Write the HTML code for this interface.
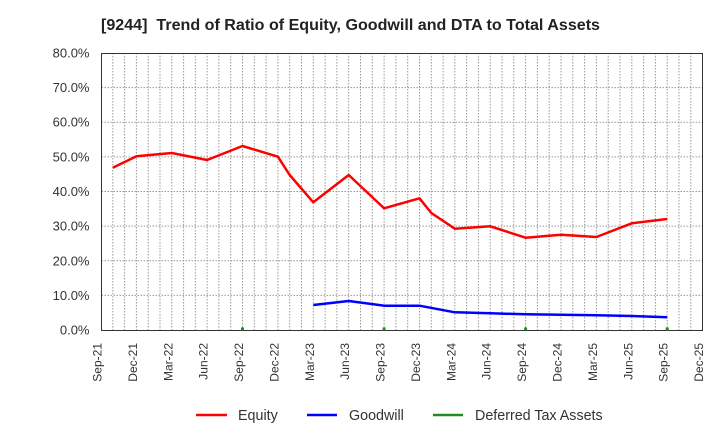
<!DOCTYPE html>
<html><head><meta charset="utf-8"><style>
html,body{margin:0;padding:0;background:#fff;}
svg{display:block;}
text{font-family:"Liberation Sans",Arial,sans-serif;}
</style></head><body>
<svg width="720" height="440" viewBox="0 0 720 440" xmlns="http://www.w3.org/2000/svg">
<rect width="720" height="440" fill="#fff"/>
<text x="101" y="30" font-size="16" font-weight="bold" fill="#222" textLength="499" lengthAdjust="spacingAndGlyphs">[9244]&#160; Trend of Ratio of Equity, Goodwill and DTA to Total Assets</text>
<g stroke="#999" stroke-width="1" stroke-dasharray="1.5,1.5" fill="none">
<path d="M101.5 87.6H702.5M101.5 122.2H702.5M101.5 156.9H702.5M101.5 191.5H702.5M101.5 226.1H702.5M101.5 260.8H702.5M101.5 295.4H702.5"/>
<path d="M112.8 53V330M124.6 53V330M136.4 53V330M148.2 53V330M160 53V330M171.8 53V330M183.6 53V330M195.3 53V330M207.1 53V330M218.9 53V330M230.7 53V330M242.5 53V330M254.3 53V330M266.1 53V330M277.9 53V330M289.7 53V330M301.5 53V330M313.3 53V330M325.1 53V330M336.9 53V330M348.7 53V330M360.5 53V330M372.3 53V330M384.1 53V330M395.9 53V330M407.7 53V330M419.5 53V330M431.3 53V330M443.1 53V330M454.8 53V330M466.6 53V330M478.4 53V330M490.2 53V330M502 53V330M513.8 53V330M525.6 53V330M537.4 53V330M549.2 53V330M561 53V330M572.8 53V330M584.6 53V330M596.4 53V330M608.2 53V330M620 53V330M631.8 53V330M643.6 53V330M655.4 53V330M667.2 53V330M679 53V330M690.8 53V330"/>
</g>
<rect x="101.5" y="53.5" width="601" height="277" fill="none" stroke="#333" stroke-width="1"/>
<g font-size="13" fill="#333" text-anchor="end">
<text x="89.5" y="57.5">80.0%</text>
<text x="89.5" y="92.1">70.0%</text>
<text x="89.5" y="126.7">60.0%</text>
<text x="89.5" y="161.4">50.0%</text>
<text x="89.5" y="196">40.0%</text>
<text x="89.5" y="230.6">30.0%</text>
<text x="89.5" y="265.3">20.0%</text>
<text x="89.5" y="299.9">10.0%</text>
<text x="89.5" y="334.5">0.0%</text>
</g>
<g font-size="12" fill="#333" text-anchor="end">
<text transform="translate(101.5,343) rotate(-90)">Sep-21</text>
<text transform="translate(136.9,343) rotate(-90)">Dec-21</text>
<text transform="translate(172.3,343) rotate(-90)">Mar-22</text>
<text transform="translate(207.6,343) rotate(-90)">Jun-22</text>
<text transform="translate(243,343) rotate(-90)">Sep-22</text>
<text transform="translate(278.4,343) rotate(-90)">Dec-22</text>
<text transform="translate(313.8,343) rotate(-90)">Mar-23</text>
<text transform="translate(349.2,343) rotate(-90)">Jun-23</text>
<text transform="translate(384.6,343) rotate(-90)">Sep-23</text>
<text transform="translate(420,343) rotate(-90)">Dec-23</text>
<text transform="translate(455.3,343) rotate(-90)">Mar-24</text>
<text transform="translate(490.7,343) rotate(-90)">Jun-24</text>
<text transform="translate(526.1,343) rotate(-90)">Sep-24</text>
<text transform="translate(561.5,343) rotate(-90)">Dec-24</text>
<text transform="translate(596.9,343) rotate(-90)">Mar-25</text>
<text transform="translate(632.3,343) rotate(-90)">Jun-25</text>
<text transform="translate(667.7,343) rotate(-90)">Sep-25</text>
<text transform="translate(703,343) rotate(-90)">Dec-25</text>
</g>
<polyline fill="none" stroke="#ff0000" stroke-width="2.5" stroke-linejoin="round" points="112.8,167.7 136.4,156.3 171.8,153 207.1,160 242.5,146 277.9,156.7 289.7,175 313.3,202.3 348.7,175 384.1,208.3 419.5,198.3 431.3,213 454.8,228.7 490.2,226.3 525.6,237.7 561,234.7 596.4,237 631.8,223.3 667.2,219"/>
<polyline fill="none" stroke="#0000ff" stroke-width="2.5" stroke-linejoin="round" points="313.3,305 348.7,301 384.1,305.7 419.5,305.7 454.8,312.3 490.2,313.3 525.6,314.3 561,314.8 596.4,315.3 631.8,316 667.2,317.3"/>
<g fill="#228b22">
<rect x="241" y="327.5" width="3" height="3"/>
<rect x="382.6" y="327.5" width="3" height="3"/>
<rect x="524.1" y="327.5" width="3" height="3"/>
<rect x="665.7" y="327.5" width="3" height="3"/>
</g>
<g stroke-width="2.5">
<line x1="196" y1="415" x2="227" y2="415" stroke="#ff0000"/>
<line x1="307" y1="415" x2="337" y2="415" stroke="#0000ff"/>
<line x1="433" y1="415" x2="463" y2="415" stroke="#228b22"/>
</g>
<g font-size="14.3" fill="#333">
<text x="238" y="420">Equity</text>
<text x="349" y="420">Goodwill</text>
<text x="475" y="420">Deferred Tax Assets</text>
</g>
</svg>
</body></html>
